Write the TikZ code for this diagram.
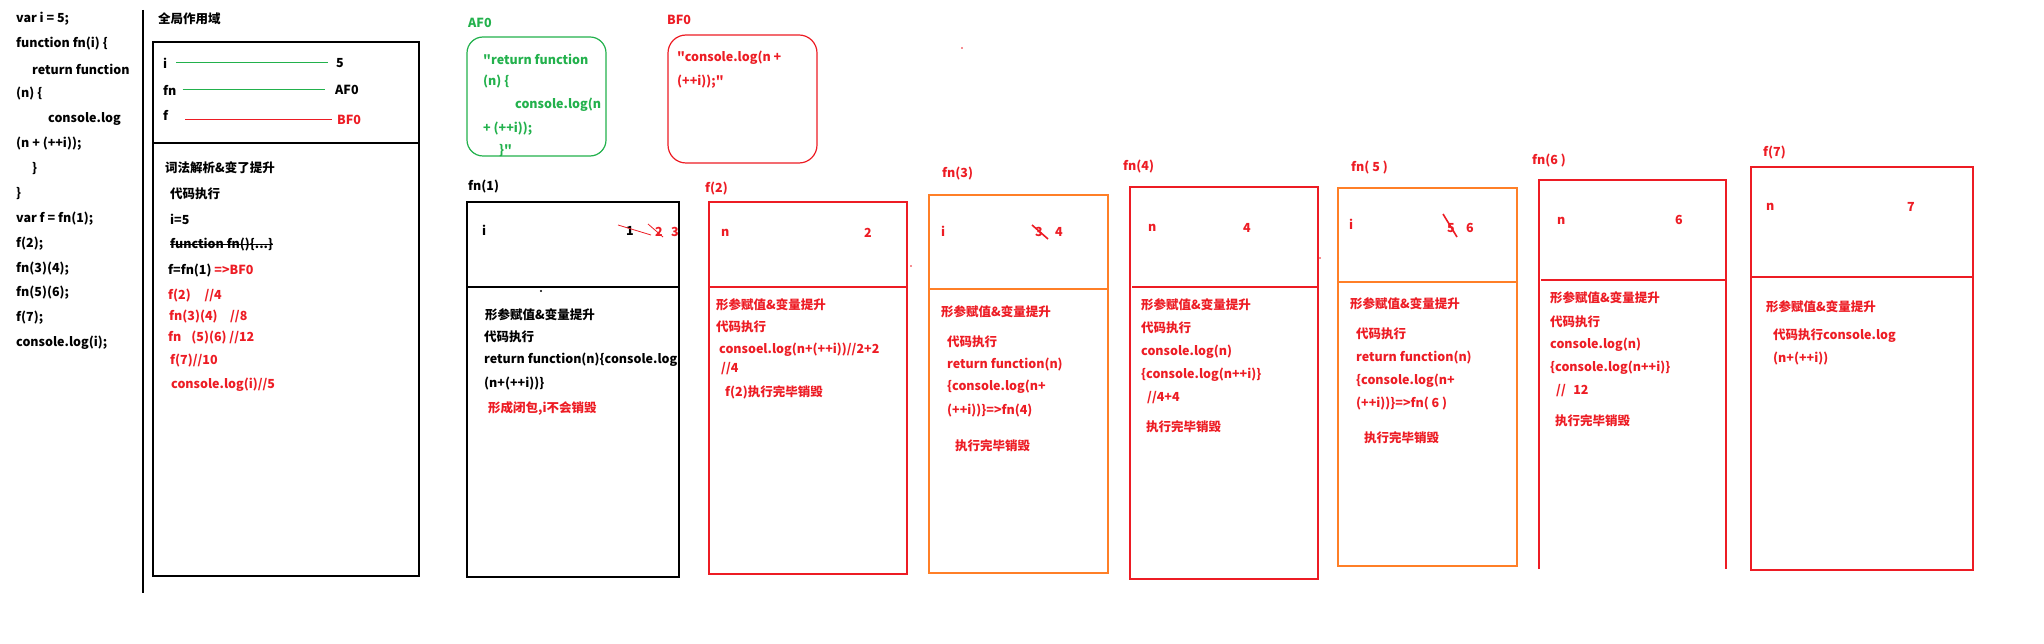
\documentclass[tikz,border=0pt]{standalone}
\usepackage{fontspec}
\setmainfont{Noto Sans CJK SC}[Ligatures=TeXOff]
\definecolor{pgreen}{HTML}{22B14C}
\definecolor{pred}{HTML}{ED1C24}
\definecolor{porange}{HTML}{FF7F27}
\begin{document}
\begin{tikzpicture}[
        x=1pt, y=-1pt,
        txt/.style={anchor=west, inner sep=0pt, font=\fontsize{12.5}{14}\selectfont\bfseries},
        rtxt/.style={txt, text=pred},
        gtxt/.style={txt, text=pgreen},
        frame/.style={draw, line width=1.2pt},
        strike/.style={draw=pred, line width=1.6pt}
    ]
        \fill[white] (0,0) rectangle (2044,644);
        \useasboundingbox (0,0) rectangle (2044,644);

        % source code
        \node[txt] (c1) at (16,19) {var i = 5;};
        \node[txt] (c2) at (16,44) {function fn(i) \{};
        \node[txt] (c3) at (32,69) {return function};
        \node[txt] (c4) at (16,94) {(n) \{};
        \node[txt] (c5) at (48,119) {console.log};
        \node[txt] (c6) at (16,144) {(n + (++i));};
        \node[txt] (c7) at (32,169) {\}};
        \node[txt] (c8) at (16,194) {\}};
        \node[txt] (c9) at (16,219) {var f = fn(1);};
        \node[txt] (c10) at (16,244) {f(2);};
        \node[txt] (c11) at (16,269) {fn(3)(4);};
        \node[txt] (c12) at (16,293) {fn(5)(6);};
        \node[txt] (c13) at (16,318) {f(7);};
        \node[txt] (c14) at (16,343) {console.log(i);};
        \draw[line width=1.2pt] (143,10) -- (143,593);

        % global scope
        \node[txt] (glabel) at (158,19) {全局作用域};
        \draw[frame] (153,42) rectangle (419,576);
        \draw[frame] (153,143) -- (419,143);
        \node[txt] (gi) at (163,63) {i};
        \node[txt] (gival) at (336,63) {5};
        \node[txt] (gfn) at (163,90) {fn};
        \node[txt] (gfnval) at (335,90) {AF0};
        \node[txt] (gf) at (163,115) {f};
        \node[rtxt] (gfval) at (337,120) {BF0};
        \draw[pgreen, line width=1pt, shorten <=9pt, shorten >=8pt] (gi.east) -- (gi.east -| gival.west);
        \draw[pgreen, line width=1pt, shorten <=6pt, shorten >=10pt] (gfn.east) -- (gfn.east -| gfnval.west);
        \draw[pred, line width=1pt, shorten <=17pt, shorten >=5pt] (gfval.west -| gf.east) -- (gfval.west);
        \node[txt] (g1) at (165,168) {词法解析\&变了提升};
        \node[txt] (g2) at (170,194) {代码执行};
        \node[txt] (g3) at (170,219) {i=5};
        \node[txt] (g4) at (170,245) {function fn()\{...\}};
        \draw[line width=1pt] (g4.west) -- (g4.east);
        \node[txt] (g5) at (168,271) {f=fn(1) \textcolor{pred}{=>BF0}};
        \node[rtxt] (g6) at (168,296) {f(2)\hspace{1.1em}//4};
        \node[rtxt] (g7) at (169,317) {fn(3)(4)\hspace{1em}//8};
        \node[rtxt] (g8) at (168,338) {fn\hspace{0.8em}(5)(6) //12};
        \node[rtxt] (g9) at (170,361) {f(7)//10};
        \node[rtxt] (g10) at (171,385) {console.log(i)//5};

        % heap objects
        \node[gtxt] (aflabel) at (468,23) {AF0};
        \draw[pgreen, line width=1.2pt, rounded corners=16pt] (467,37) rectangle (606,156);
        \node[gtxt] (af1) at (483,59) {"return function};
        \node[gtxt] (af2) at (483,82) {(n) \{};
        \node[gtxt] (af3) at (515,105) {console.log(n};
        \node[gtxt] (af4) at (483,129) {+ (++i));};
        \node[gtxt] (af5) at (499,151) {\}"};
        \node[rtxt] (bflabel) at (667,20) {BF0};
        \draw[pred, line width=1.2pt, rounded corners=18pt] (668,35) rectangle (817,163);
        \node[rtxt] (bf1) at (677,58) {"console.log(n +};
        \node[rtxt] (bf2) at (677,82) {(++i));"};
        \fill[pred] (962,48) circle (0.8);

        % fn(1)
        \node[txt] (l1) at (468,187) {fn(1)};
        \draw[frame] (467,202) rectangle (679,577);
        \draw[frame] (467,287) -- (679,287);
        \fill (541,291) circle (1.2);
        \node[txt] (s1i) at (482,230) {i};
        \node[txt] (s1a) at (626,231) {1};
        \node[rtxt] (s1b) at (655,232) {2};
        \node[rtxt] (s1c) at (671,232) {3};
        \draw[pred, line width=0.8pt] (618,225) -- (651,235);
        \draw[pred, line width=0.8pt] (648,224) -- (663,237);
        \node[txt] (s1t1) at (485,315) {形参赋值\&变量提升};
        \node[txt] (s1t2) at (484,337) {代码执行};
        \node[txt] (s1t3) at (484,360) {return function(n)\{console.log};
        \node[txt] (s1t4) at (484,384) {(n+(++i))\}};
        \node[rtxt] (s1t5) at (488,408) {形成闭包,i不会销毁};

        % f(2)
        \node[rtxt] (l2) at (705,189) {f(2)};
        \draw[frame, pred] (709,202) rectangle (907,574);
        \draw[frame, pred] (709,287) -- (907,287);
        \fill[pred] (911,266) circle (0.8);
        \node[rtxt] (s2n) at (721,233) {n};
        \node[rtxt] (s2v) at (864,233) {2};
        \node[rtxt] (s2t1) at (716,305) {形参赋值\&变量提升};
        \node[rtxt] (s2t2) at (716,327) {代码执行};
        \node[rtxt] (s2t3) at (719,350) {consoel.log(n+(++i))//2+2};
        \node[rtxt] (s2t4) at (721,369) {//4};
        \node[rtxt] (s2t5) at (725,392) {f(2)执行完毕销毁};

        % fn(3)
        \node[rtxt] (l3) at (942,174) {fn(3)};
        \draw[frame, porange] (929,195) rectangle (1108,573);
        \draw[frame, porange] (929,289) -- (1109,289);
        \node[rtxt] (s3i) at (941,231) {i};
        \node[rtxt] (s3a) at (1035,232) {3};
        \node[rtxt] (s3b) at (1055,232) {4};
        \draw[strike] (1032,225) -- (1048,239);
        \node[rtxt] (s3t1) at (941,312) {形参赋值\&变量提升};
        \node[rtxt] (s3t2) at (947,342) {代码执行};
        \node[rtxt] (s3t3) at (947,365) {return function(n)};
        \node[rtxt] (s3t4) at (947,387) {\{console.log(n+};
        \node[rtxt] (s3t5) at (947,411) {(++i))\}=>fn(4)};
        \node[rtxt] (s3t6) at (955,446) {执行完毕销毁};

        % fn(4)
        \node[rtxt] (l4) at (1123,167) {fn(4)};
        \draw[frame, pred] (1130,187) rectangle (1318,579);
        \draw[frame, pred] (1132,287) -- (1318,287);
        \fill[pred] (1320,258) circle (0.8);
        \node[rtxt] (s4n) at (1148,228) {n};
        \node[rtxt] (s4v) at (1243,228) {4};
        \node[rtxt] (s4t1) at (1141,305) {形参赋值\&变量提升};
        \node[rtxt] (s4t2) at (1141,328) {代码执行};
        \node[rtxt] (s4t3) at (1141,352) {console.log(n)};
        \node[rtxt] (s4t4) at (1141,375) {\{console.log(n++i)\}};
        \node[rtxt] (s4t5) at (1147,398) {//4+4};
        \node[rtxt] (s4t6) at (1146,427) {执行完毕销毁};

        % fn(5)
        \node[rtxt] (l5) at (1351,168) {fn( 5 )};
        \draw[frame, porange] (1338,188) rectangle (1517,566);
        \draw[frame, porange] (1338,282) -- (1518,282);
        \node[rtxt] (s5i) at (1349,224) {i};
        \node[rtxt] (s5a) at (1447,228) {5};
        \node[rtxt] (s5b) at (1466,228) {6};
        \draw[strike] (1443,214) -- (1457,237);
        \node[rtxt] (s5t1) at (1350,304) {形参赋值\&变量提升};
        \node[rtxt] (s5t2) at (1356,334) {代码执行};
        \node[rtxt] (s5t3) at (1356,358) {return function(n)};
        \node[rtxt] (s5t4) at (1356,381) {\{console.log(n+};
        \node[rtxt] (s5t5) at (1356,404) {(++i))\}=>fn( 6 )};
        \node[rtxt] (s5t6) at (1364,438) {执行完毕销毁};

        % fn(6)
        \node[rtxt] (l6) at (1532,161) {fn(6 )};
        \draw[frame, pred] (1539,569) -- (1539,180) -- (1726,180) -- (1726,569);
        \draw[frame, pred] (1541,280) -- (1726,280);
        \node[rtxt] (s6n) at (1557,221) {n};
        \node[rtxt] (s6v) at (1675,220) {6};
        \node[rtxt] (s6t1) at (1550,298) {形参赋值\&变量提升};
        \node[rtxt] (s6t2) at (1550,322) {代码执行};
        \node[rtxt] (s6t3) at (1550,345) {console.log(n)};
        \node[rtxt] (s6t4) at (1550,368) {\{console.log(n++i)\}};
        \node[rtxt] (s6t5) at (1556,391) {//\hspace{0.6em}12};
        \node[rtxt] (s6t6) at (1555,421) {执行完毕销毁};

        % f(7)
        \node[rtxt] (l7) at (1763,153) {f(7)};
        \draw[frame, pred] (1751,167) rectangle (1973,570);
        \draw[frame, pred] (1751,277) -- (1973,277);
        \node[rtxt] (s7n) at (1766,207) {n};
        \node[rtxt] (s7v) at (1907,207) {7};
        \node[rtxt] (s7t1) at (1766,307) {形参赋值\&变量提升};
        \node[rtxt] (s7t2) at (1773,336) {代码执行console.log};
        \node[rtxt] (s7t3) at (1773,359) {(n+(++i))};
    \end{tikzpicture}
\end{document}
